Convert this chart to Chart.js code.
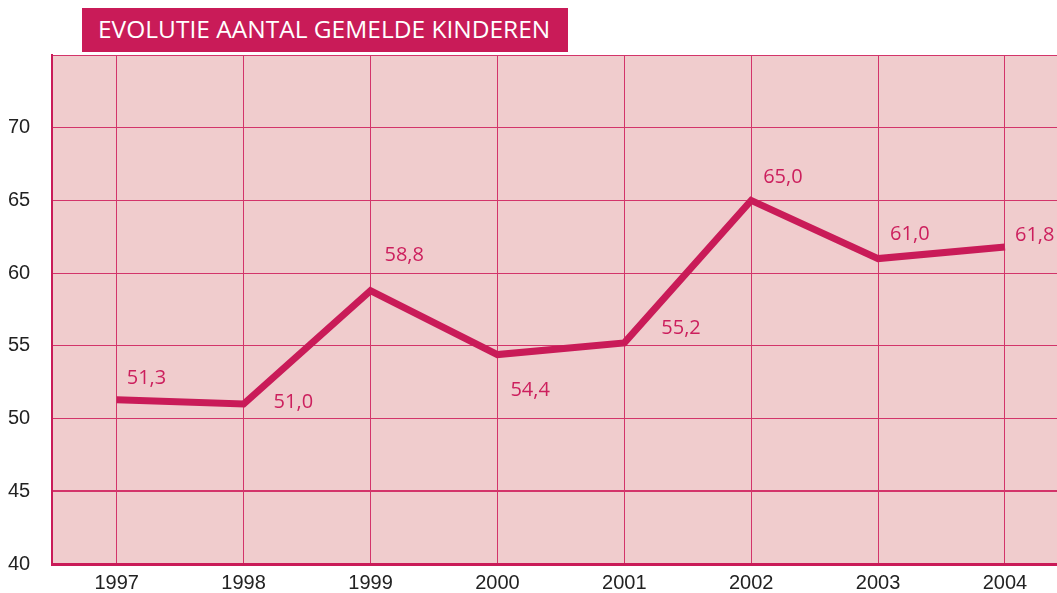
<!DOCTYPE html>
<html lang="nl">
  <head>
    <meta charset="UTF-8" />
    <title>Evolutie aantal gemelde kinderen</title>
    <script src="https://cdn.jsdelivr.net/npm/chart.js"></script>
    <style>
      body {
        margin: 0;
        background: #ffffff;
      }
      .wrap {
        position: relative;
        width: 1057px;
        height: 593px;
      }
      .title {
        position: absolute;
        left: 82px;
        top: 8px;
        width: 486px;
        height: 44px;
        background: #c91b58;
        color: #ffffff;
        font-family: "Open Sans", sans-serif;
        font-size: 24.5px;
        line-height: 42px;
        padding-left: 16px;
        box-sizing: border-box;
        white-space: nowrap;
      }
    </style>
  </head>
  <body>
    <div class="wrap">
      <canvas id="chart" width="1057" height="593"></canvas>
      <div class="title">EVOLUTIE AANTAL GEMELDE KINDEREN</div>
    </div>

    <script>
      const years = [1997, 1998, 1999, 2000, 2001, 2002, 2003, 2004];
      const counts = [51.3, 51.0, 58.8, 54.4, 55.2, 65.0, 61.0, 61.8];
      const yTicks = [40, 45, 50, 55, 60, 65, 70];

      // where each value label sits next to its point (px)
      const labelDx = [10, 30, 14, 13, 37, 12, 12, 10];
      const labelDy = [-21, -2, -35, 36, -15, -23, -24, -12];

      const magenta = "#c91b58";
      const gridColor = "#d3346a";

      const areaFill = {
        id: "areaFill",
        beforeDraw(chart) {
          const a = chart.chartArea;
          const ctx = chart.ctx;
          ctx.save();
          ctx.fillStyle = "#f0cccd";
          ctx.fillRect(a.left, a.top, a.right - a.left, a.bottom - a.top);
          ctx.restore();
        },
      };

      const valueLabels = {
        id: "valueLabels",
        afterDatasetsDraw(chart) {
          const ctx = chart.ctx;
          const pts = chart.getDatasetMeta(0).data;
          ctx.save();
          ctx.fillStyle = "#cc1f5d";
          ctx.font = "20px 'Open Sans', sans-serif";
          ctx.textAlign = "left";
          ctx.textBaseline = "middle";
          pts.forEach((p, i) => {
            const txt = counts[i].toFixed(1).replace(".", ",");
            ctx.fillText(txt, p.x + labelDx[i], p.y + labelDy[i]);
          });
          ctx.restore();
        },
      };

      new Chart(document.getElementById("chart"), {
        type: "line",
        data: {
          datasets: [
            {
              data: years.map((y, i) => ({ x: y, y: counts[i] })),
              borderColor: magenta,
              borderWidth: 7,
              borderCapStyle: "butt",
              borderJoinStyle: "miter",
              pointRadius: 0,
              tension: 0,
              fill: false,
            },
          ],
        },
        options: {
          responsive: false,
          animation: false,
          layout: { padding: { left: 8, top: 55, right: 0, bottom: 0 } },
          plugins: {
            legend: { display: false },
            tooltip: { enabled: false },
          },
          scales: {
            x: {
              type: "linear",
              min: 1996.49,
              max: 2004.41,
              afterBuildTicks: (s) => {
                s.ticks = years.map((v) => ({ value: v }));
              },
              afterFit: (s) => {
                s.height = 29;
              },
              grid: {
                color: gridColor,
                lineWidth: 1,
                drawTicks: false,
              },
              border: { color: magenta, width: 3 },
              ticks: {
                padding: 7,
                color: "#222222",
                font: { family: "Liberation Sans", size: 20 },
                callback: (v) => String(v),
              },
            },
            y: {
              min: 40,
              max: 75,
              afterBuildTicks: (s) => {
                s.ticks = yTicks.concat([75]).map((v) => ({ value: v }));
              },
              afterFit: (s) => {
                s.width = 44;
              },
              grid: {
                color: gridColor,
                lineWidth: (c) => (c.tick && c.tick.value === 45 ? 2 : 1),
                drawTicks: false,
              },
              border: { color: magenta, width: 2 },
              ticks: {
                crossAlign: "far",
                padding: 0,
                color: "#222222",
                font: { family: "Liberation Sans", size: 20 },
                callback: (v) => (yTicks.includes(v) ? String(v) : ""),
              },
            },
          },
        },
        plugins: [areaFill, valueLabels],
      });
    </script>
  </body>
</html>
